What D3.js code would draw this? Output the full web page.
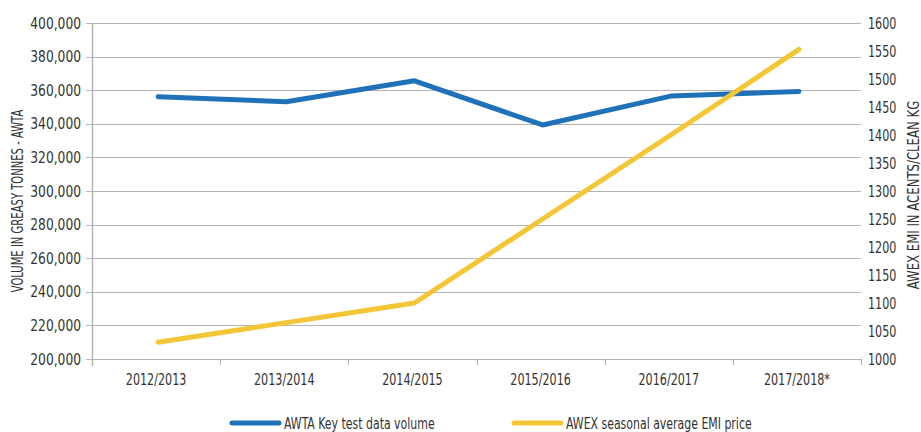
<!DOCTYPE html>
<html>
<head>
<meta charset="utf-8">
<script src="https://cdn.jsdelivr.net/npm/d3@7"></script>
<style>
  body { margin: 0; background: #fff; }
  svg text { font-family: "DejaVu Sans Condensed", "Liberation Sans Narrow", sans-serif; fill: #333; }
</style>
</head>
<body>
<div id="chart"></div>
<script>
// seasons on the x axis
var seasons = ["2012/2013", "2013/2014", "2014/2015", "2015/2016", "2016/2017", "2017/2018*"];
// AWTA key test data volume (greasy tonnes)
var volume = [356100, 353100, 365600, 339300, 356500, 359200];
// AWEX seasonal average EMI price (ac/clean kg)
var emi = [1030, 1065, 1100, 1250, 1400, 1553];
var leftTicks = [200000, 220000, 240000, 260000, 280000, 300000, 320000, 340000, 360000, 380000, 400000];
var rightTicks = [1000, 1050, 1100, 1150, 1200, 1250, 1300, 1350, 1400, 1450, 1500, 1550, 1600];
var seriesNames = ["AWTA Key test data volume", "AWEX seasonal average EMI price"];

var W = 921, H = 432;
var margin = {top: 23, right: 60, bottom: 73, left: 92};
var blue = "#1f72b8", yellow = "#f4c535";

var svg = d3.select("#chart").append("svg")
  .attr("width", W).attr("height", H);

var x = d3.scaleBand()
  .domain(seasons)
  .range([margin.left, W - margin.right])
  .padding(0);

var yL = d3.scaleLinear()
  .domain([200000, 400000])
  .range([H - margin.bottom, margin.top]);

var yR = d3.scaleLinear()
  .domain([1000, 1600])
  .range([H - margin.bottom, margin.top]);

var x0 = margin.left, x1 = W - margin.right;

// gridlines
svg.append("g").selectAll("line")
  .data(leftTicks)
  .enter().append("line")
    .attr("x1", x0 - 6).attr("x2", x1)
    .attr("y1", function(d) { return Math.round(yL(d)) + 0.5; })
    .attr("y2", function(d) { return Math.round(yL(d)) + 0.5; })
    .attr("stroke", "#b4b4b4").attr("stroke-width", 1.2);

// left axis line
svg.append("line")
  .attr("x1", x0 + 0.5).attr("x2", x0 + 0.5)
  .attr("y1", yL(400000)).attr("y2", yL(200000) + 7)
  .attr("stroke", "#b4b4b4").attr("stroke-width", 1.5);

// x axis ticks at band edges
var edges = seasons.map(function(s) { return x(s); }).concat([x(seasons[seasons.length - 1]) + x.bandwidth()]);
svg.append("g").selectAll("line")
  .data(edges.slice(1))
  .enter().append("line")
    .attr("x1", function(d) { return Math.round(d) + 0.5; })
    .attr("x2", function(d) { return Math.round(d) + 0.5; })
    .attr("y1", yL(200000)).attr("y2", yL(200000) + 6)
    .attr("stroke", "#b4b4b4").attr("stroke-width", 1.2);

// left labels (narrowed to look like the condensed original)
svg.append("g").selectAll("text")
  .data(leftTicks)
  .enter().append("text")
    .attr("transform", function(d) { return "translate(" + (x0 - 11) + "," + (yL(d) + 5.5) + ") scale(0.88,1)"; })
    .attr("text-anchor", "end")
    .style("font-size", "15.5px")
    .text(function(d) { return d3.format(",")(d); });

// right labels
svg.append("g").selectAll("text")
  .data(rightTicks)
  .enter().append("text")
    .attr("transform", function(d) { return "translate(" + (x1 + 7) + "," + (yR(d) + 5.5) + ") scale(0.8,1)"; })
    .style("font-size", "15.5px")
    .text(function(d) { return d; });

// x labels
svg.append("g").selectAll("text")
  .data(seasons)
  .enter().append("text")
    .attr("transform", function(d) { return "translate(" + (x(d) + x.bandwidth() / 2) + "," + (yL(200000) + 26) + ") scale(0.8,1)"; })
    .attr("text-anchor", "middle")
    .style("font-size", "15.5px")
    .text(function(d) { return d; });

// axis titles
svg.append("text")
  .attr("transform", "translate(23,201) rotate(-90) scale(0.72,1)")
  .attr("text-anchor", "middle")
  .style("font-size", "15.5px")
  .text("VOLUME IN GREASY TONNES - AWTA");

svg.append("text")
  .attr("transform", "translate(919,195) rotate(-90) scale(0.84,1)")
  .attr("text-anchor", "middle")
  .style("font-size", "15.5px")
  .text("AWEX EMI IN ACENTS/CLEAN KG");

// lines
var lineL = d3.line()
  .x(function(d, i) { return x(seasons[i]) + x.bandwidth() / 2 + 2; })
  .y(function(d) { return yL(d); });
var lineR = d3.line()
  .x(function(d, i) { return x(seasons[i]) + x.bandwidth() / 2 + 2; })
  .y(function(d) { return yR(d); });

svg.append("path")
  .datum(volume)
  .attr("d", lineL)
  .attr("fill", "none").attr("stroke", blue)
  .attr("stroke-width", 5).attr("stroke-linecap", "round").attr("stroke-linejoin", "round");

svg.append("path")
  .datum(emi)
  .attr("d", lineR)
  .attr("fill", "none").attr("stroke", yellow)
  .attr("stroke-width", 5).attr("stroke-linecap", "round").attr("stroke-linejoin", "round");

// legend
var legend = [
  {name: seriesNames[0], color: blue, x: 232},
  {name: seriesNames[1], color: yellow, x: 514}
];
var lg = svg.append("g").selectAll("g")
  .data(legend)
  .enter().append("g")
    .attr("transform", function(d) { return "translate(" + d.x + ",423)"; });
lg.append("line")
  .attr("x1", 0).attr("x2", 47)
  .attr("stroke", function(d) { return d.color; })
  .attr("stroke-width", 5).attr("stroke-linecap", "round");
lg.append("text")
  .attr("transform", "translate(52,6) scale(0.76,1)")
  .style("font-size", "16px")
  .text(function(d) { return d.name; });
</script>
</body>
</html>
